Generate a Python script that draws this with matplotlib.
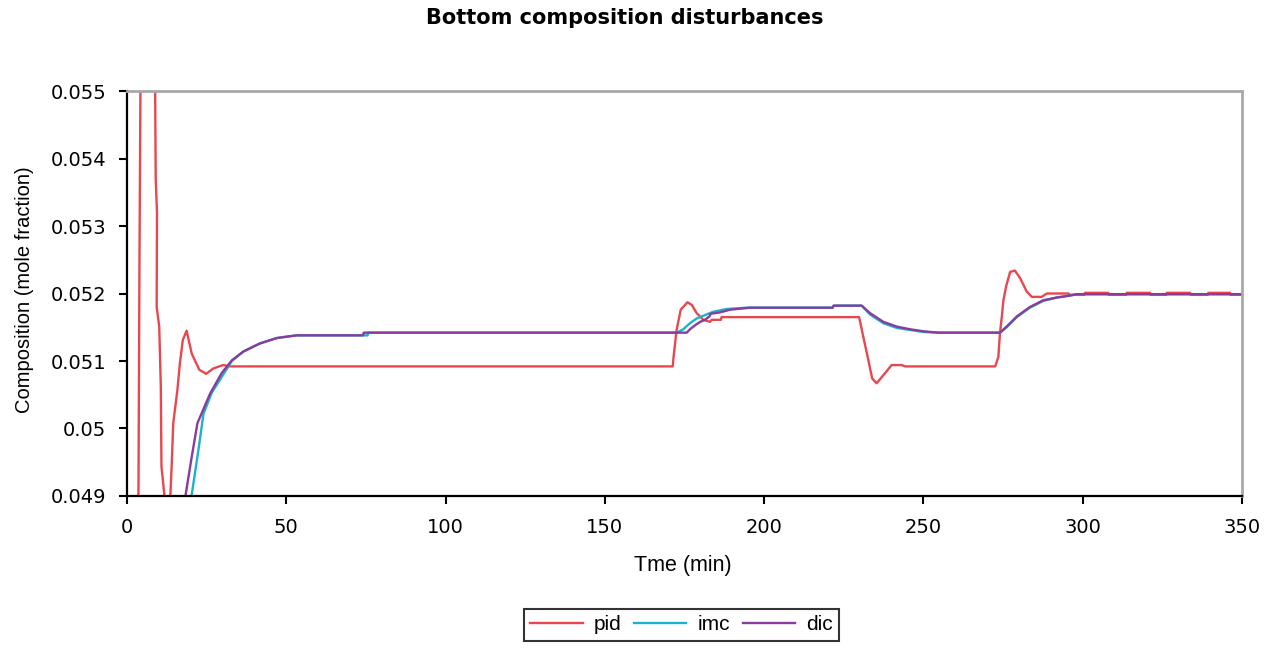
import matplotlib
matplotlib.use("Agg")
import matplotlib.pyplot as plt
from matplotlib.ticker import FixedLocator, FixedFormatter

# Time (min) and bottom composition (mole fraction) for each controller
t_pid = [0, 3.4, 3.6, 3.9, 4.2, 4.5, 8.6, 8.8, 9.0, 9.4, 9.3, 10.1, 10.6, 10.8, 11.7,
         12.5, 13.0, 13.5, 14.0, 14.5, 15.8, 16.6, 17.5, 18.7, 20.3, 22.7, 24.8, 27.1,
         30.2, 32.3, 171.3, 171.5, 172.5, 173.8, 175.9, 177.3, 178.8, 180.9, 183.0,
         183.5, 186.4, 186.6, 229.8, 231.1, 232.7, 233.9, 235.3, 237.4, 240.0, 243.2,
         244.2, 272.5, 273.5, 274.0, 274.6, 275.1, 275.9, 277.2, 278.7, 280.3, 282.4,
         284.0, 287.1, 288.7, 295.5, 296.0, 300.5, 300.7, 308.0, 308.2, 313.6, 313.8,
         321.1, 321.3, 326.2, 326.4, 333.7, 333.9, 339.2, 339.4, 346.2, 346.4, 350]
pid = [0.0460, 0.0480, 0.0492, 0.0525, 0.0550, 0.0570, 0.0570, 0.0552, 0.0537, 0.0532,
       0.0518, 0.05151, 0.05062, 0.04944, 0.04902, 0.0480, 0.0478, 0.0489, 0.04944,
       0.05008, 0.05057, 0.05097, 0.05131, 0.05145, 0.05111, 0.05087, 0.05081, 0.05089,
       0.05094, 0.05092, 0.05092, 0.05104, 0.05146, 0.05176, 0.05187, 0.05183, 0.05171,
       0.05161, 0.05158, 0.05161, 0.05161, 0.05165, 0.05165, 0.05136, 0.05101, 0.05074,
       0.05067, 0.05079, 0.05094, 0.05094, 0.05092, 0.05092, 0.05106, 0.05141, 0.05166,
       0.05190, 0.05210, 0.05232, 0.05234, 0.05223, 0.05203, 0.05195, 0.05195, 0.05200,
       0.05200, 0.05198, 0.05198, 0.05201, 0.05201, 0.05198, 0.05198, 0.05201, 0.05201,
       0.05198, 0.05198, 0.05201, 0.05201, 0.05198, 0.05198, 0.05201, 0.05201, 0.05198,
       0.05198]

t_imc = [0, 19.0, 20.3, 22.4, 24.0, 26.6, 30.2, 32.9, 36.5, 41.7, 47.0, 50.0, 53.3,
         75.5, 75.8, 172.5, 174.6, 176.7, 178.8, 181.4, 184.0, 188.2, 194.5, 221.5,
         221.8, 230.6, 233.2, 237.4, 241.6, 245.8, 250.0, 254.7, 274.0, 276.1, 279.3,
         283.4, 287.6, 291.8, 296.0, 298.1, 350]
imc = [0.0440, 0.0487, 0.04902, 0.04968, 0.05022, 0.05053, 0.05080, 0.05100, 0.05114,
       0.05126, 0.05134, 0.05136, 0.05138, 0.05138, 0.05142, 0.05142, 0.05147, 0.05156,
       0.05163, 0.05168, 0.05173, 0.05177, 0.05179, 0.05179, 0.05182, 0.05182, 0.05169,
       0.05156, 0.05149, 0.05146, 0.05143, 0.05142, 0.05142, 0.05150, 0.05165, 0.05179,
       0.05189, 0.05194, 0.05197, 0.05199, 0.05199]

t_dic = [0, 17.0, 18.4, 20.3, 22.1, 26.1, 29.7, 32.9, 36.5, 41.7, 47.0, 50.0, 53.3,
         74.0, 74.3, 171.5, 175.7, 176.7, 178.3, 179.9, 181.4, 182.8, 183.2, 186.1,
         189.3, 195.6, 221.5, 221.8, 230.6, 233.2, 237.4, 241.6, 245.8, 250.0, 254.7,
         274.0, 276.1, 279.3, 283.4, 287.6, 291.8, 296.0, 298.1, 350]
dic = [0.0440, 0.0487, 0.04902, 0.04958, 0.05008, 0.05052, 0.05082, 0.05101, 0.05114,
       0.05126, 0.05134, 0.05136, 0.05138, 0.05138, 0.05142, 0.05142, 0.05142, 0.05147,
       0.05153, 0.05158, 0.05161, 0.05166, 0.05170, 0.05172, 0.05176, 0.05179, 0.05179,
       0.05182, 0.05182, 0.05171, 0.05158, 0.05151, 0.05147, 0.05144, 0.05142, 0.05142,
       0.05151, 0.05166, 0.05180, 0.05190, 0.05194, 0.05197, 0.05199, 0.05199]

x_ticks = [0, 50, 100, 150, 200, 250, 300, 350]
y_ticks = [0.049, 0.050, 0.051, 0.052, 0.053, 0.054, 0.055]
y_tick_labels = ["0.049", "0.05", "0.051", "0.052", "0.053", "0.054", "0.055"]

fig = plt.figure(figsize=(12.73, 6.51), dpi=100)
ax = fig.add_axes([0.0998, 0.2381, 0.8759, 0.6221])

ax.plot(t_pid, pid, color="#E8474F", lw=1.7, label="pid")
ax.plot(t_imc, imc, color="#1BB3CC", lw=1.7, label="imc")
ax.plot(t_dic, dic, color="#8A3B9C", lw=1.7, label="dic")

ax.set_xlim(0, 350)
ax.set_ylim(0.049, 0.055)
ax.xaxis.set_major_locator(FixedLocator(x_ticks))
ax.yaxis.set_major_locator(FixedLocator(y_ticks))
ax.yaxis.set_major_formatter(FixedFormatter(y_tick_labels))

for side in ("left", "bottom"):
    ax.spines[side].set_color("black")
    ax.spines[side].set_linewidth(1.6)
for side in ("top", "right"):
    ax.spines[side].set_color("#A8A8A8")
    ax.spines[side].set_linewidth(2.0)

ax.tick_params(axis="both", direction="out", length=6, width=1.5, color="black",
               labelsize=14)
ax.tick_params(axis="y", pad=9)
ax.tick_params(axis="x", pad=10)

fig.text(0.491, 0.972, "Bottom composition disturbances", ha="center", va="center",
         fontsize=15, fontweight="bold")
fig.text(0.019, 0.5545, "Composition (mole fraction)", rotation=90, ha="center",
         va="center", fontsize=14.5, family="Liberation Sans")
fig.text(0.5366, 0.1306, "Tme (min)", ha="center", va="center", fontsize=15.5,
         family="Liberation Sans")

leg = fig.legend(loc="center", bbox_to_anchor=(0.5355, 0.040), ncol=3,
                 prop={"family": "Liberation Sans", "size": 15},
                 frameon=True, fancybox=False, edgecolor="black", handlelength=2.5,
                 handletextpad=0.55, columnspacing=0.6, borderpad=0.3)
leg.get_frame().set_linewidth(1.5)

fig.savefig("out.png", dpi=100, facecolor="white")
